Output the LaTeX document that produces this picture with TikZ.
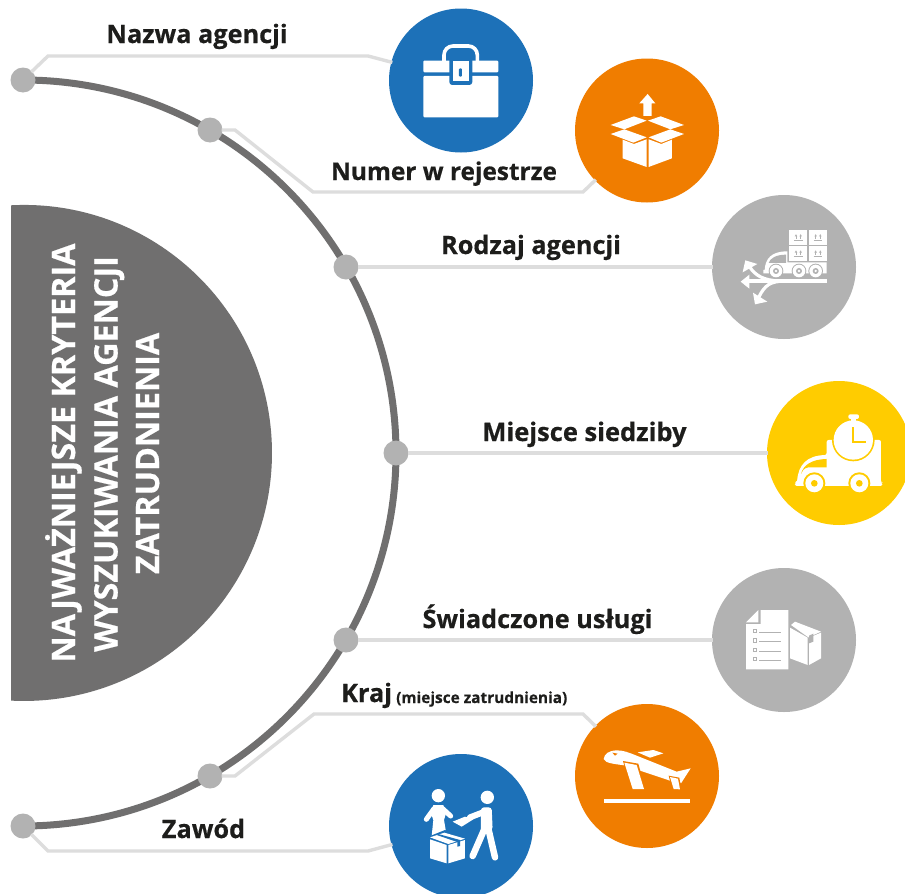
\documentclass[tikz,border=0pt]{standalone}
\usepackage{fontspec}
\setmainfont[BoldFeatures={FakeBold=0.5}]{Open Sans}
\newcommand\fsz[1]{\fontsize{#1}{#1}\selectfont\bfseries}
\definecolor{cBlue}{HTML}{1D71B8}
\definecolor{cOrange}{HTML}{F07D00}
\definecolor{cYellow}{HTML}{FFCC00}
\definecolor{cGray}{HTML}{B2B2B2}
\definecolor{cDark}{HTML}{706F6F}
\definecolor{cLine}{HTML}{DDDDDD}
\definecolor{cText}{HTML}{1D1D1B}
\tikzset{
  bubble/.style={circle,minimum size=144pt,inner sep=0pt,outer sep=0pt},
  dotnode/.style={circle,fill=cGray,minimum size=25pt,inner sep=0pt,outer sep=0pt},
  link/.style={draw=cLine,line width=3.4pt,line join=miter,shorten >=-1pt,shorten <=-1pt},
  label/.style={anchor=base,inner sep=0pt,text=cText,font=\fsz{25.3}},
  head/.style={anchor=base,inner sep=0pt,rotate=90,text=white,font=\fsz{32.3}},
  ico/.style={fill=white,draw=none},
}
\begin{document}
\begin{tikzpicture}[x=1pt,y=-1pt]
\clip (0,0) rectangle (905,894);
\fill[white] (0,0) rectangle (905,894);
% bubbles
\node[bubble,fill=cBlue] (c1) at (461,80.5) {};
\node[bubble,fill=cOrange] (c2) at (647,130.5) {};
\node[bubble,fill=cGray] (c3) at (784,267) {};
\node[bubble,fill=cYellow] (c4) at (839,453) {};
\node[bubble,fill=cGray] (c5) at (784,640) {};
\node[bubble,fill=cOrange] (c6) at (647,776) {};
\node[bubble,fill=cBlue] (c7) at (461,826) {};
% disc
\fill[cDark] (11,205.3) arc[start angle=93,end angle=-93,radius=248pt] -- cycle;
\coordinate (d1c) at (23,80);
\coordinate (d2c) at (210,130);
\coordinate (d3c) at (346,267);
\coordinate (d4c) at (396,453);
\coordinate (d5c) at (346,640);
\coordinate (d6c) at (210,776);
\coordinate (d7c) at (23,826);
\coordinate (k1a) at (48,56); \coordinate (k1b) at (368,56);
\coordinate (k2a) at (235,130); \coordinate (k2b) at (313,192); \coordinate (k2c) at (583,192);
\coordinate (k6a) at (235,776); \coordinate (k6b) at (314,714); \coordinate (k6c) at (583,714);
\coordinate (k7a) at (48,851); \coordinate (k7b) at (368,851);
\draw[cDark,line width=7pt] (d1c) arc[start angle=90,end angle=-90,radius=373pt];
\node[dotnode] (d1) at (d1c) {};
\node[dotnode] (d2) at (d2c) {};
\node[dotnode] (d3) at (d3c) {};
\node[dotnode] (d4) at (d4c) {};
\node[dotnode] (d5) at (d5c) {};
\node[dotnode] (d6) at (d6c) {};
\node[dotnode] (d7) at (d7c) {};
\draw[link] (d1) -- (k1a) -- (k1b) -- (c1);
\draw[link] (d2) -- (k2a) -- (k2b) -- (k2c) -- (c2);
\draw[link] (d3) -- (c3);
\draw[link] (d4) -- (c4);
\draw[link] (d5) -- (c5);
\draw[link] (d6) -- (k6a) -- (k6b) -- (k6c) -- (c6);
\draw[link] (d7) -- (k7a) -- (k7b) -- (c7);
% labels
\node[label] (t1) at (197,43) {Nazwa agencji};
\node[label,font=\fsz{24.4}] (t2) at (444,180) {Numer w rejestrze};
\node[label] (t3) at (531,254) {Rodzaj agencji};
\node[label,font=\fsz{25.5}] (t4) at (584.5,441) {Miejsce siedziby};
\node[label] (t5) at (537.5,628) {Świadczone usługi};
\node[label,anchor=base west] (t6) at (341,702) {Kraj};
\node[label,anchor=base west,font=\fsz{15.4}] (t6b) at (396,703) {(miejsce zatrudnienia)};
\node[label] (t7) at (203.5,838) {Zawód};
\node[head] (h1) at (75,453) {NAJWAŻNIEJSZE KRYTERIA};
\node[head] (h2) at (117.5,454) {WYSZUKIWANIA AGENCJI};
\node[head] (h3) at (159,453.5) {ZATRUDNIENIA};
% icon 1: briefcase
\begin{scope}[shift={(380,0)},scale=0.3333]
\draw[white,line width=3.6pt,rounded corners=9pt] (192,185) -- (192,138) -- (292,138) -- (292,185);
\fill[ico] (130,182) [rounded corners=1pt] -- (355,182) -- (355,217) -- (130,217) -- cycle;
\fill[ico] (130,228) [rounded corners=1pt] -- (355,228) -- (355,352) -- (130,352) -- cycle;
\fill[cBlue,rounded corners=3pt] (208,172) rectangle (277,255);
\fill[ico] (219,182) rectangle (267,244);
\fill[cBlue,rounded corners=1pt] (237,205) rectangle (246,230);
\end{scope}
% icon 2: box
\begin{scope}[shift={(380,0)},scale=0.3333]
\fill[ico] (803,282) -- (826,310) -- (815,310) -- (815,348) -- (790,348) -- (790,310) -- (778,310) -- cycle;
\fill[ico] (692,375) -- (762,349) -- (800,362) -- (733,388) -- cycle;
\fill[ico] (912,375) -- (842,349) -- (804,362) -- (871,388) -- cycle;
\fill[ico] (692,402) -- (733,388) -- (800,412) -- (760,428) -- cycle;
\fill[ico] (912,402) -- (871,388) -- (806,412) -- (844,428) -- cycle;
\fill[ico] (728,419) -- (762,432) -- (800,418) -- (800,501) -- (728,475) -- cycle;
\fill[ico] (806,418) -- (844,432) -- (876,419) -- (876,475) -- (806,501) -- cycle;
\end{scope}
% icon 3: truck with arrows
\begin{scope}[shift={(700,190)},scale=0.3333]
\foreach \cx/\cy in {295/142.5,354/142.5,295/191,354/191}{
  \fill[ico] (\cx-27,\cy-22.5) rectangle (\cx+27,\cy+22.5);
  \draw[cGray,line width=0.8pt] (\cx-13,\cy+9) -- (\cx+13,\cy+9);
  \draw[cGray,line width=0.8pt] (\cx-7,\cy+4) -- (\cx-7,\cy-5);
  \draw[cGray,line width=0.8pt] (\cx+7,\cy+4) -- (\cx+7,\cy-5);
  \fill[cGray] (\cx-7,\cy-10) -- (\cx-11,\cy-3) -- (\cx-3,\cy-3) -- cycle;
  \fill[cGray] (\cx+7,\cy-10) -- (\cx+3,\cy-3) -- (\cx+11,\cy-3) -- cycle;
}
\fill[ico] (190,250) -- (190,240) -- (194,240) .. controls (196,205) and (215,184) .. (262,184) -- (262,217) -- (380,217) -- (380,250) -- cycle;
\fill[cGray] (206,219) .. controls (210,205) and (228,194) .. (258,194) -- (258,219) -- cycle;
\foreach \wx in {228,297,347}{
  \fill[cGray] (\wx,243) circle[radius=22];
  \fill[ico] (\wx,243) circle[radius=19];
  \fill[cGray] (\wx,243) circle[radius=9];
  \fill[ico] (\wx,243) circle[radius=4];
}
\draw[white,line width=3.3pt] (145,273) -- (382,273);
\draw[white,line width=3.2pt] (150,232) .. controls (165,255) and (190,272) .. (240,273);
\draw[white,line width=3.2pt] (176,322) .. controls (195,285) and (210,274) .. (255,273);
\fill[ico] (122,275) -- (148,254) -- (148,296) -- cycle;
\fill[ico] (136,211) -- (172,222) -- (128,247) -- cycle;
\fill[ico] (165,343) -- (159,308) -- (202,335) -- cycle;
\end{scope}
% icon 4: truck with clock
\begin{scope}[shift={(700,190)},scale=0.3333]
\fill[ico,rounded corners=2pt] (380,750) -- (543,750) -- (543,878) -- (547,878) -- (547,888) -- (285,888) -- (285,878) -- (291,878) .. controls (295,825) and (320,797) .. (380,795) -- cycle;
\fill[cYellow] (303,852) .. controls (310,825) and (335,808) .. (380,807) -- (380,832) -- (325,832) .. controls (312,835) and (306,842) .. (303,852) -- cycle;
\foreach \wx in {343,478}{
  \fill[cYellow] (\wx,880) circle[radius=33];
  \fill[ico] (\wx,880) circle[radius=27];
  \fill[cYellow] (\wx,880) circle[radius=10];
}
\fill[cYellow] (460,750) circle[radius=64];
\fill[ico] (460,750) circle[radius=59];
\fill[ico] (453,685) rectangle (468,695);
\fill[ico,rounded corners=2pt] (445,673) rectangle (477,687);
\draw[cYellow,line width=2pt] (460,712) -- (460,757) -- (497,757);
\end{scope}
% icon 5: document and box
\begin{scope}[shift={(735,600)},scale=0.3333]
\fill[ico] (33,67) -- (70,30) -- (70,67) -- cycle;
\fill[ico] (77,30) -- (160,30) -- (160,208) -- (33,208) -- (33,72) -- (77,72) -- cycle;
\foreach \ly in {93,121,149,176}{
  \draw[cGray,line width=0.8pt] (54,\ly-5) rectangle (65,\ly+5);
  \draw[cGray,line width=0.9pt] (72,\ly+4) -- (138,\ly+4);
}
\fill[ico] (168,75) -- (180,65) -- (258,95) -- (220,112) -- cycle;
\fill[ico] (165,83) -- (218,113) -- (218,195) -- (165,175) -- cycle;
\fill[ico] (222,113) -- (258,98) -- (258,175) -- (222,195) -- cycle;
\fill[cGray] (222,107) -- (235,101) -- (235,125) -- (222,130) -- cycle;
\end{scope}
% icon 6: plane
\begin{scope}[shift={(595,740)},scale=0.3333]
\fill[ico] (28,178) rectangle (285,189);
\fill[ico] (26,57) .. controls (28,42) and (40,32) .. (65,31) .. controls (85,31) and (100,37) .. (125,47) -- (245,95) -- (287,85) -- (258,130) -- (248,118) -- (225,122) -- (88,76) .. controls (60,72) and (30,70) .. (26,57) -- cycle;
\fill[cOrange] (52,38) -- (68,41) -- (60,47) -- cycle;
\fill[cOrange] (84,63) -- (130,71) -- (152,150) -- (108,150) -- cycle;
\fill[ico] (88,68) -- (125,75) -- (147,147) -- (113,147) -- cycle;
\fill[cOrange] (221,107) -- (253,113) -- (259,150) -- (232,150) -- cycle;
\fill[ico] (225,111) -- (249,116) -- (255,148) -- (236,147) -- cycle;
\fill[ico] (128,37) -- (175,30) -- (205,40) -- (165,53) -- cycle;
\end{scope}
% icon 7: people with box
\begin{scope}[shift={(410,780)},scale=0.3333]
\fill[ico] (85,47) circle[radius=20];
\fill[ico] (232,52) circle[radius=20];
\fill[ico] (70,75) -- (100,75) -- (108,100) -- (102,120) -- (110,168) -- (65,168) -- (70,120) -- (63,100) -- cycle;
\draw[white,line width=5pt,line cap=round,line join=round] (72,86) -- (49,118);
\draw[white,line width=5pt,line cap=round,line join=round] (98,86) -- (122,108);
\fill[white] (128,125) -- (165,110) -- (190,118) -- (155,140) -- cycle;
\draw[white,line width=6pt,line cap=round,line join=round] (232,92) -- (180,112);
\fill[ico,rounded corners=3pt] (213,82) -- (245,82) -- (248,150) -- (213,165) -- cycle;
\draw[white,line width=6.5pt,line cap=round,line join=round] (222,150) -- (188,228);
\draw[white,line width=6.5pt,line cap=round,line join=round] (236,150) -- (255,232);
\fill[cBlue] (50,172) -- (105,150) -- (172,172) -- (172,240) -- (115,258) -- (50,240) -- cycle;
\fill[ico] (60,172) -- (103,158) -- (165,176) -- (115,192) -- cycle;
\fill[ico] (60,178) -- (110,195) -- (110,250) -- (60,235) -- cycle;
\fill[ico] (115,195) -- (165,180) -- (165,235) -- (115,250) -- cycle;
\fill[cBlue] (85,162) -- (150,180) -- (150,198) -- (142,200) -- (142,186) -- (80,165) -- cycle;
\end{scope}
\end{tikzpicture}
\end{document}
